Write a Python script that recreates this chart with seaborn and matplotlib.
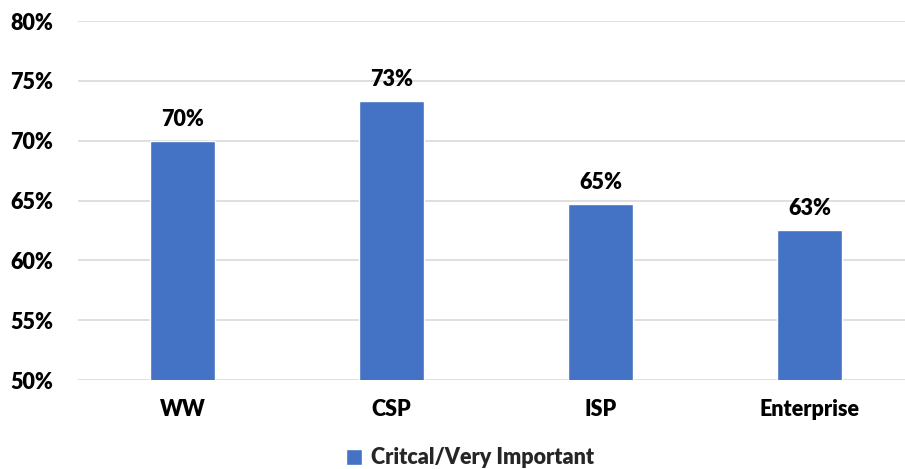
import matplotlib
matplotlib.use("Agg")
import matplotlib.pyplot as plt
import seaborn as sns
import pandas as pd
from matplotlib.ticker import FuncFormatter

categories = ["WW", "CSP", "ISP", "Enterprise"]
values = [70.0, 73.3, 64.7, 62.5]
series_name = "Critcal/Very Important"
y_ticks = [50, 55, 60, 65, 70, 75, 80]

df = pd.DataFrame({"segment": categories, "share": values})

sns.set_theme(style="white")
plt.rcParams["font.family"] = ["Lato", "DejaVu Sans"]
weight = "heavy"
fsize = 15.5

fig = plt.figure(figsize=(9.05, 4.69), dpi=100)
ax = fig.add_axes([78 / 905, 1 - 380 / 469, (905 - 78) / 905, (380 - 21) / 469])

bar_color = "#4472C4"
sns.barplot(data=df, x="segment", y="share", color=bar_color, width=0.31,
            label=series_name, ax=ax, saturation=1)

ax.set_ylim(50, 80)
ax.set_xlim(-0.5, 3.457)
ax.set_yticks(y_ticks)
ax.yaxis.set_major_formatter(FuncFormatter(lambda v, _: f"{int(v)}%"))
ax.grid(axis="y", color="#D9D9D9", linewidth=1.2)
ax.set_axisbelow(True)
for s in ax.spines.values():
    s.set_visible(False)
ax.set_xlabel("")
ax.set_ylabel("")
ax.tick_params(axis="y", length=0, pad=18, labelsize=fsize, labelcolor="black")
ax.tick_params(axis="x", length=0, pad=14, labelsize=fsize, labelcolor="black")
for lbl in ax.get_xticklabels() + ax.get_yticklabels():
    lbl.set_fontweight(weight)

for i, v in enumerate(values):
    ax.annotate(f"{int(v + 0.5)}%", (i, v), xytext=(0, 8), textcoords="offset points",
                ha="center", va="bottom", fontsize=fsize, fontweight=weight, color="black")

leg = ax.legend(loc="lower center", bbox_to_anchor=(0.474, -0.30), frameon=False,
                handlelength=0.75, handleheight=0.75, handletextpad=0.45,
                prop={"weight": weight, "size": fsize})

fig.savefig("out.png", dpi=100)
